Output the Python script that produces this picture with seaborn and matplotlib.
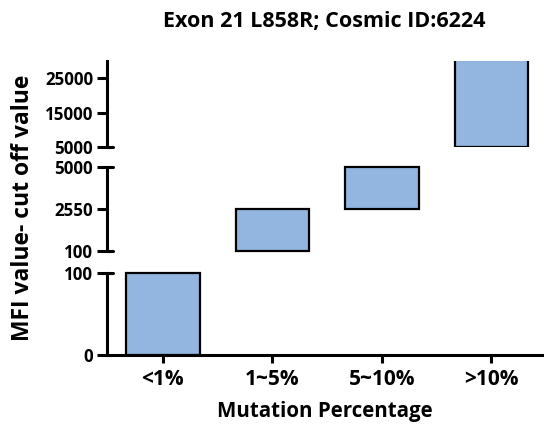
import matplotlib
matplotlib.use("Agg")
import matplotlib.pyplot as plt
import seaborn as sns
import pandas as pd

# data: each bar is a floating range (low -> high)
categories = ['<1%', '1~5%', '5~10%', '>10%']
range_low = [0, 100, 2550, 5000]
range_high = [100, 2550, 5000, 35000]  # last bar runs past the top of the axis

# broken y axis: (ymin, ymax, ticks) for each segment, bottom to top
seg_limits = [(0, 100), (100, 5000), (5000, 30000)]
seg_ticks = [[0, 100], [100, 2550, 5000], [5000, 15000, 25000]]

df = pd.DataFrame({'cat': categories, 'low': range_low, 'high': range_high})
df['span'] = df['high'] - df['low']

sns.set_style('white')
plt.rcParams['font.family'] = ['Open Sans', 'DejaVu Sans']
plt.rcParams['font.weight'] = 'bold'
plt.rcParams['text.color'] = 'black'

fig = plt.figure(figsize=(5.44, 4.30), dpi=100)
W, H = 544, 430
left, right = 107, 544
# pixel rows (top, bottom) of each segment, bottom to top
seg_px = [(273, 355), (167, 251), (61, 147)]

bar_color = '#92b6e0'
lw = 2.2

axes = []
for i, ((lo, hi), ticks, (ptop, pbot)) in enumerate(zip(seg_limits, seg_ticks, seg_px)):
    ax = fig.add_axes([left / W, 1 - pbot / H, (right - left) / W, (pbot - ptop) / H])
    sub = df[(df['low'] >= lo) & (df['low'] < hi)]
    is_top = i == len(seg_limits) - 1
    sns.barplot(data=sub, x='cat', y='span', bottom=sub['low'].values, order=categories,
                color=bar_color, saturation=1, edgecolor='black', linewidth=1.6,
                width=0.67, errorbar=None, ax=ax, clip_on=is_top)
    ax.set_ylim(lo, hi)
    ax.set_xlim(-0.51, 3.48)
    ax.set_yticks(ticks)
    ax.set_yticklabels([str(t) for t in ticks], fontsize=12.2, fontweight='bold')
    ax.tick_params(axis='y', left=True, direction='out', length=7, width=lw, pad=3,
                   colors='black', labelcolor='black')
    for s in ['top', 'right']:
        ax.spines[s].set_visible(False)
    ax.spines['left'].set_linewidth(lw)
    ax.spines['left'].set_color('black')
    ax.set_ylabel('')
    ax.set_xlabel('')
    ax.patch.set_alpha(0)
    if i == 0:
        ax.spines['bottom'].set_linewidth(lw)
        ax.spines['bottom'].set_color('black')
        ax.tick_params(axis='x', bottom=True, direction='out', length=6, width=lw, pad=4,
                       colors='black', labelcolor='black')
        ax.set_xticks(range(len(categories)))
        ax.set_xticklabels(categories, fontsize=15, fontweight='bold')
    else:
        ax.spines['bottom'].set_visible(False)
        ax.set_xticks([])
    # small caps at the broken ends of the y axis
    if i > 0:
        ax.axhline(lo, xmin=0, xmax=0.013, color='black', lw=lw, clip_on=False)
    if not is_top:
        ax.axhline(hi, xmin=0, xmax=0.013, color='black', lw=lw, clip_on=False)
    axes.append(ax)

fig.text(324 / W, 1 - 22 / H, 'Exon 21 L858R; Cosmic ID:6224', ha='center', va='center',
         fontsize=15.5, fontweight='bold', color='black')
fig.text(325 / W, 1 - 412 / H, 'Mutation Percentage', ha='center', va='center',
         fontsize=14.8, fontweight='bold', color='black')
fig.text(23 / W, 1 - 208 / H, 'MFI value- cut off value', ha='center', va='center',
         rotation=90, fontsize=16.5, fontweight='bold', color='black')

fig.savefig('out.png', dpi=100)
